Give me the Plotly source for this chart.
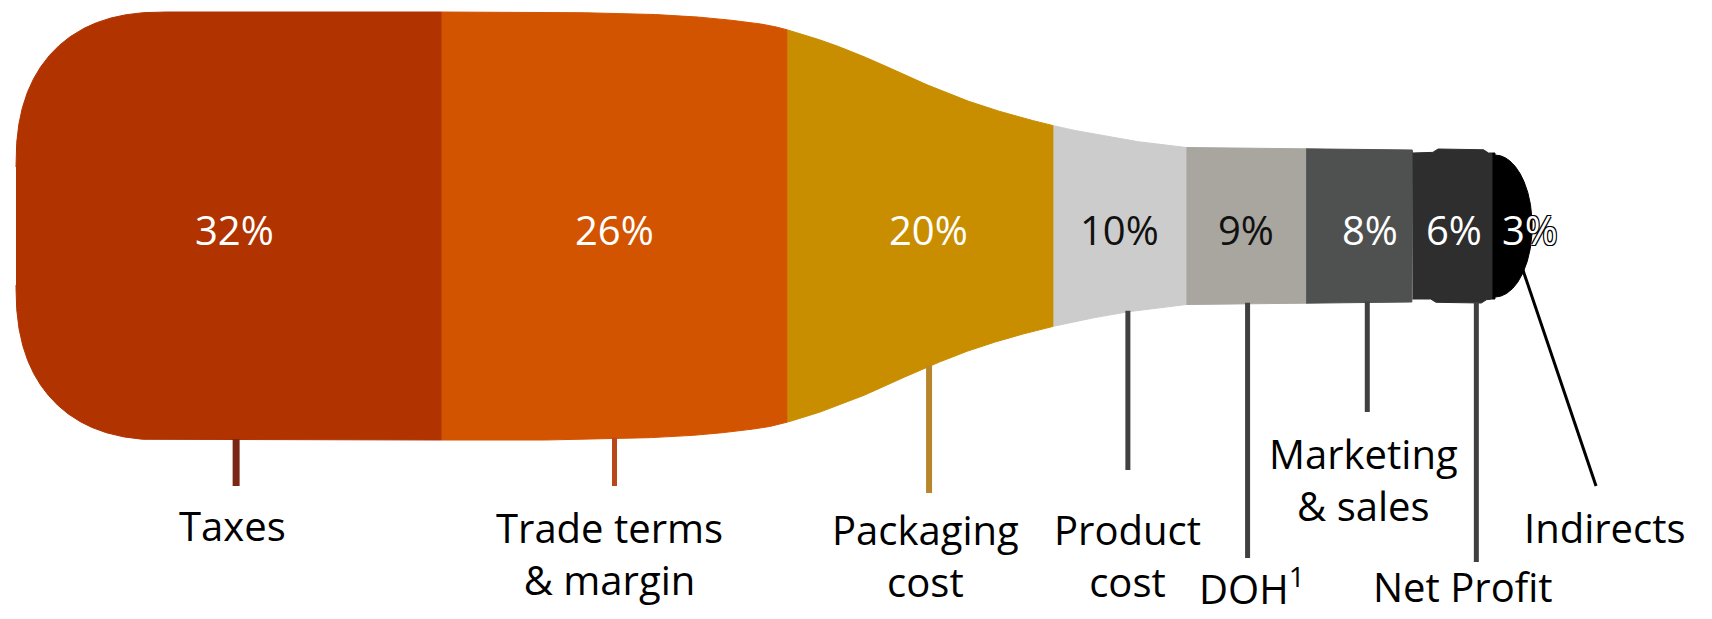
import numpy as np
import plotly.graph_objects as go

# ---- data -------------------------------------------------------------
categories = ["Taxes", "Trade terms<br>& margin", "Packaging<br>cost", "Product<br>cost",
              "DOH<sup>1</sup>", "Marketing<br>& sales", "Net Profit", "Indirects"]
shares = [32, 26, 20, 10, 9, 8, 6, 3]

# ---- styling ----------------------------------------------------------
fill_colors = ["#B03300", "#D35400", "#C88E00", "#CCCCCC", "#A8A69F", "#4F5150", "#2D2E2D", "#000000"]
pct_colors = ["white", "white", "white", "#111111", "#111111", "white", "white", "white"]
leader_colors = ["#7B2716", "#B9471C", "#B8862B", "#404040", "#404040", "#404040", "#404040", "#000000"]
leader_widths = [7, 5, 6, 5, 5, 5, 5, 3]

# nudges (in % units along x, px along y measured from the bottle axis)
pct_dx = [0.45, 0.0, 0.6, 0.0, 0.0, 0.8, 0.1, 1.3]
leader_dx = [0.55, 0.0, 0.65, 0.6, 0.1, 0.6, 1.8, 0.0]
leader_end_y = [-260, -260, -267, -244, -332, -186, -336, -260]
label_dx = [0.3, -0.4, 0.4, 0.6, 0.4, 0.3, 0.8, 7.0]
label_y = [-299, -327, -329, -329, -360, -253, -360, -301]

FONT = "Open Sans, Lato, Arial, sans-serif"
PX_PER_PCT = 13.3
LEFT_PX = 16
W, H = 1712, 619
AXIS_PX = 226  # vertical position of the bottle axis

# ---- bottle outline ---------------------------------------------------
BODY_H = 214
CORNER_A = 150 / PX_PER_PCT  # horizontal radius of the base corner (in %)
CORNER_B = 155               # vertical radius (px)
CORNER_N = 2.4
CAP_C, CAP_A, CAP_B = 111.2, 2.8, 71


def pchip(xk, yk, x):
    xk = np.asarray(xk, float)
    yk = np.asarray(yk, float)
    hk = np.diff(xk)
    dk = np.diff(yk) / hk
    m = np.zeros_like(yk)
    m[0], m[-1] = dk[0], dk[-1]
    for k in range(1, len(xk) - 1):
        if dk[k - 1] * dk[k] <= 0:
            m[k] = 0.0
        else:
            w1 = 2 * hk[k] + hk[k - 1]
            w2 = hk[k] + 2 * hk[k - 1]
            m[k] = (w1 + w2) / (w1 / dk[k - 1] + w2 / dk[k])
    idx = np.clip(np.searchsorted(xk, x) - 1, 0, len(hk) - 1)
    t = (x - xk[idx]) / hk[idx]
    h00 = 2 * t**3 - 3 * t**2 + 1
    h10 = t**3 - 2 * t**2 + t
    h01 = -2 * t**3 + 3 * t**2
    h11 = t**3 - t**2
    return h00 * yk[idx] + h10 * hk[idx] * m[idx] + h01 * yk[idx + 1] + h11 * hk[idx] * m[idx + 1]


SHOULDER_U = [40, 48, 56, 60, 64, 68, 72, 76, 80, 84, 88]
SHOULDER_H = [214, 211.5, 202, 188, 168, 144, 123, 107, 94.5, 85, 78.5]


def smoothstep(v):
    v = np.clip(v, 0, 1)
    return v * v * (3 - 2 * v)


def half_height(u):
    u = np.asarray(u, float)
    h = np.full_like(u, float(BODY_H))
    c = u < CORNER_A
    dx = (CORNER_A - u[c]) / CORNER_A
    h[c] = BODY_H - CORNER_B + CORNER_B * np.clip(1 - dx**CORNER_N, 0, 1) ** (1 / CORNER_N)
    s = (u >= 40) & (u <= 88)
    h[s] = pchip(SHOULDER_U, SHOULDER_H, u[s])
    n1 = (u > 88) & (u < 105)
    h[n1] = 78.5 + (76 - 78.5) * (u[n1] - 88) / 17
    n2 = (u >= 105) & (u < CAP_C)
    bump = smoothstep((u[n2] - 106.4) / 0.5) * smoothstep((110.7 - u[n2]) / 0.5)
    h[n2] = 73 + 4 * bump
    cp = u >= CAP_C
    h[cp] = CAP_B * np.sqrt(np.clip(1 - ((u[cp] - CAP_C) / CAP_A) ** 2, 0, 1))
    return h


t = np.linspace(0, np.pi / 2, 240)
extra_u = np.concatenate([CORNER_A - CORNER_A * np.cos(t) ** (2 / CORNER_N),
                          CAP_C + CAP_A * np.cos(t)])

edges = np.concatenate([[0], np.cumsum(shares)])
mids = (edges[:-1] + edges[1:]) / 2

fig = go.Figure()

for i, cat in enumerate(categories):
    a, b = edges[i], edges[i + 1]
    u = np.unique(np.concatenate([np.linspace(a, b, 500), extra_u[(extra_u > a) & (extra_u < b)]]))
    hh = half_height(u)
    xs = np.concatenate([u, u[::-1]])
    ys = np.concatenate([hh, -hh[::-1]])
    fig.add_trace(go.Scatter(x=xs, y=ys, mode="lines", fill="toself",
                             fillcolor=fill_colors[i],
                             line=dict(color=fill_colors[i], width=1),
                             hoverinfo="skip", showlegend=False))

# leaders
for i, cat in enumerate(categories):
    if cat == "Indirects":
        x0, y0 = 113.1, -36
        x1, y1 = 118.8, -260
    else:
        x0 = x1 = mids[i] + leader_dx[i]
        y0 = -float(half_height([x0])[0]) + 1
        y1 = leader_end_y[i]
    fig.add_shape(type="line", x0=x0, x1=x1, y0=y0, y1=y1, xref="x", yref="y",
                  line=dict(color=leader_colors[i], width=leader_widths[i]))

# percentage labels
for i, v in enumerate(shares):
    font = dict(family=FONT, size=40, color=pct_colors[i])
    if categories[i] == "Indirects":
        font["shadow"] = "1px 1px 0 #000, -1px -1px 0 #000, 1px -1px 0 #000, -1px 1px 0 #000"
    fig.add_annotation(x=mids[i] + pct_dx[i], y=-3, text=f"{v}%", showarrow=False,
                       xanchor="center", yanchor="middle", font=font)

# category labels
for i, cat in enumerate(categories):
    fig.add_annotation(x=mids[i] + label_dx[i], y=label_y[i], text=cat, showarrow=False,
                       xanchor="center", yanchor="middle", align="center",
                       font=dict(family=FONT, size=40, color="#000000"))

fig.update_xaxes(range=[-LEFT_PX / PX_PER_PCT, (W - LEFT_PX) / PX_PER_PCT],
                 visible=False, fixedrange=True)
fig.update_yaxes(range=[AXIS_PX - H, AXIS_PX], visible=False, fixedrange=True)
fig.update_layout(width=W, height=H, margin=dict(l=0, r=0, t=0, b=0),
                  plot_bgcolor="white", paper_bgcolor="white",
                  showlegend=False, hovermode=False)

fig.write_html("out.html")
